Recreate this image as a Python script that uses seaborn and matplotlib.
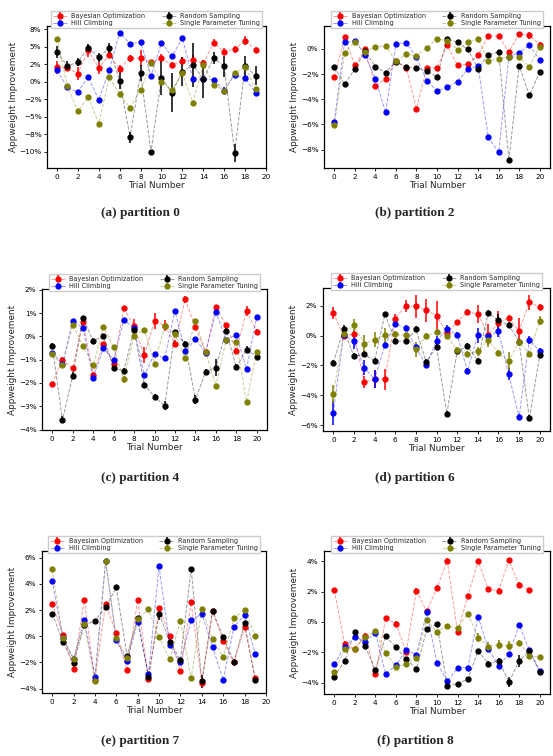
import matplotlib
matplotlib.use("Agg")
import numpy as np
import pandas as pd
import seaborn as sns
import matplotlib.pyplot as plt
from matplotlib.ticker import MultipleLocator, PercentFormatter

# values in percent
methods = ["Bayesian Optimization", "Hill Climbing", "Random Sampling", "Single Parameter Tuning"]
colors = ["red", "blue", "black", "olive"]

# partition 0
p0_bo = [2.1, 2.0, 1.2, 4.5, 2.0, 3.9, 1.9, 3.4, 3.4, 2.8, 3.4, 2.4, 3.0, 3.2, 2.65, 5.6, 4.3, 4.7, 5.9, 4.6]
p0_hc = [1.66, -0.76, -1.47, 0.76, -2.56, 1.66, 7.06, 5.45, 5.73, 0.85, 5.6, 3.65, 6.3, 0.43, 0.43, 0.33, -1.23, 1.04, 0.57, -1.56]
p0_rs = [4.27, 2.27, 2.84, 4.88, 3.5, 4.83, 0.19, -7.9, 1.28, -10.0, 0.62, -1.56, 1.47, 2.42, 0.47, 3.41, 2.27, -10.1, 2.27, 0.9]
p0_spt = [6.1, -0.52, -4.2, -2.13, -5.97, 0.66, -1.7, -3.7, -1.09, 2.65, 0.0, -1.14, 1.23, -2.94, 2.46, -0.38, -1.23, 1.23, 2.18, -1.04]
p0_bo_err = [0.9, 0.4, 0.9, 0.9, 0.8, 0.5, 0.5, 0.5, 1.1, 0.4, 0.6, 0.4, 0.5, 0.6, 0.4, 0.5, 0.5, 0.5, 0.6, 0.4]
p0_hc_err = [0.3, 0.2, 0.2, 0.2, 0.2, 0.3, 0.2, 0.2, 0.2, 0.2, 0.2, 0.2, 0.2, 0.2, 0.2, 0.3, 0.5, 0.4, 0.2, 0.2]
p0_rs_err = [0.8, 0.7, 0.6, 0.6, 0.7, 0.8, 1.2, 0.8, 1.1, 0.2, 2.5, 2.8, 2.1, 3.1, 2.7, 0.9, 1.5, 1.3, 1.5, 1.4]
p0_spt_err = [0.2] * 20

# partition 2
p2_bo = [-2.25, 0.93, -1.3, -0.03, -2.94, -2.38, -0.98, -1.48, -4.74, -1.53, -1.48, 0.29, -1.3, -1.22, -0.48, 1.03, 1.03, -0.24, 1.22, 1.08, 0.34]
p2_hc = [-5.79, 0.53, 0.66, -0.5, -2.38, -5.05, 0.42, 0.5, -0.66, -2.51, -3.33, -3.04, -2.59, -1.61, -1.35, -7.04, -8.23, -0.61, -0.29, 0.32, -0.87]
p2_rs = [-1.43, -2.8, -1.59, -0.16, -1.4, -1.88, -1.0, -1.46, -1.51, -1.75, -2.22, 0.82, 0.53, -0.03, -1.56, -0.45, -0.24, -8.86, -1.32, -3.7, -1.8]
p2_spt = [-6.08, -0.32, 0.58, -0.26, 0.19, 0.24, -0.98, -0.42, -0.53, 0.11, 0.79, 0.66, -0.05, 0.56, 0.77, -0.98, -0.79, -0.61, -0.66, -1.4, 0.19]
p2_bo_err = [0.15] * 19 + [0.3, 0.2]
p2_hc_err = [0.12] * 21
p2_rs_err = [0.12] * 21
p2_spt_err = [0.12] * 21

# partition 4
p4_bo = [-2.04, -1.0, -1.38, 0.6, -1.64, -0.33, -1.2, 1.21, 0.44, -0.81, 0.66, 0.46, -0.31, 1.6, 0.38, -0.67, 1.25, 0.47, -0.61, 1.08, 0.2]
p4_hc = [-0.7, -1.2, 0.66, 0.37, -1.81, -0.51, -1.0, 0.71, 0.34, -1.68, -0.75, -0.94, 1.1, -0.64, -0.11, -0.7, 1.05, -0.14, 0.07, -1.4, 0.83]
p4_rs = [-0.41, -3.59, -1.7, 0.77, -0.19, 0.0, -1.37, -1.48, 0.28, -2.07, -2.6, -2.98, 0.19, -0.33, -2.72, -1.51, -1.34, 0.23, -1.32, -0.57, -0.87]
p4_spt = [-0.78, -1.24, 0.48, -0.4, -1.25, 0.4, -0.48, -1.84, 0.03, 0.28, -1.17, 0.43, 0.11, -0.95, 0.67, -0.68, -2.12, -0.17, -0.24, -2.81, -0.67]
p4_bo_err = [0.1, 0.1, 0.1, 0.1, 0.1, 0.1, 0.1, 0.1, 0.3, 0.35, 0.35, 0.25, 0.15, 0.15, 0.1, 0.1, 0.1, 0.1, 0.1, 0.2, 0.1]
p4_hc_err = [0.08] * 21
p4_rs_err = [0.12, 0.15, 0.15, 0.12, 0.1, 0.1, 0.12, 0.12, 0.1, 0.1, 0.12, 0.2, 0.1, 0.12, 0.2, 0.12, 0.35, 0.12, 0.12, 0.15, 0.1]
p4_spt_err = [0.08, 0.08, 0.08, 0.08, 0.08, 0.08, 0.08, 0.15, 0.08, 0.08, 0.08, 0.08, 0.08, 0.08, 0.08, 0.08, 0.08, 0.08, 0.08, 0.08, 0.08]

# partition 6
p6_bo = [1.55, -0.04, 0.13, -3.12, -2.92, -2.92, 1.15, 2.02, 1.96, 1.69, 1.35, 0.16, 0.9, 1.62, 1.44, 0.07, 0.85, 1.21, 0.31, 2.25, 1.91]
p6_hc = [-5.17, 0.07, -0.38, -2.16, -2.92, -0.65, 0.76, 0.54, -0.79, -1.96, -0.34, 0.43, 0.07, -2.38, 0.04, -0.04, 0.31, -2.6, -5.48, -0.29, -1.03]
p6_rs = [-1.82, 0.43, -1.37, -1.26, -1.69, 1.44, -0.34, -0.38, 0.43, -1.78, -0.76, -5.24, -1.06, -0.7, -1.69, 1.51, 1.03, 0.7, -0.4, -5.55, -1.33]
p6_spt = [-3.89, 0.09, 0.7, -0.54, -0.27, 0.02, 0.09, 0.02, -0.92, -0.04, 0.25, 0.0, -0.99, -1.21, -1.06, -0.29, -1.17, -1.73, -0.43, -1.21, 1.01]
p6_bo_err = [0.4, 0.2, 0.2, 0.4, 0.6, 0.7, 0.3, 0.4, 0.8, 0.8, 1.0, 0.2, 0.15, 0.2, 0.6, 0.7, 0.8, 0.2, 0.9, 0.5, 0.2]
p6_hc_err = [0.8, 0.3, 0.5, 0.5, 0.6, 0.2, 0.2, 0.2, 0.2, 0.2, 0.3, 0.3, 0.2, 0.2, 0.5, 0.2, 0.4, 0.4, 0.2, 0.3, 0.2]
p6_rs_err = [0.2, 0.3, 0.2, 0.2, 0.2, 0.1, 0.2, 0.2, 0.2, 0.2, 0.2, 0.2, 0.2, 0.2, 0.2, 0.2, 0.4, 0.2, 0.2, 0.2, 0.2]
p6_spt_err = [0.6, 0.3, 0.4, 0.6, 0.5, 0.5, 0.2, 0.2, 0.5, 0.2, 0.2, 0.2, 0.2, 0.2, 0.3, 0.5, 0.2, 0.6, 0.2, 0.2, 0.3]

# partition 7
p7_bo = [2.46, 0.13, -2.53, 2.76, -3.32, 2.48, 0.23, -2.58, 2.76, -3.27, 2.18, 0.0, -2.66, 2.58, -3.57, 1.9, -0.33, -2.0, 0.68, -3.22]
p7_hc = [4.23, -0.15, -1.72, 1.27, -3.09, 5.77, -0.3, -1.9, 1.09, -2.91, 5.32, -0.68, -2.0, 1.22, 1.72, -0.81, -3.34, 0.71, 1.62, -1.37]
p7_rs = [1.72, -0.41, -2.05, 0.84, 1.19, 2.2, 3.72, -1.47, 1.37, -3.11, 1.72, -0.41, -1.8, 5.14, -3.44, 1.92, -0.05, -1.95, 0.99, -3.37]
p7_spt = [5.11, -0.1, -1.7, 0.91, -3.39, 5.72, -0.13, -1.65, 1.32, 2.05, -0.08, -1.77, 1.19, -3.22, 2.1, -0.2, -1.62, 1.39, 2.03, 0.03]
p7_bo_err = [0.15] * 20
p7_hc_err = [0.15] * 20
p7_rs_err = [0.15] * 10 + [0.5, 0.15, 0.15, 0.15, 0.5, 0.15, 0.15, 0.15, 0.15, 0.15]
p7_spt_err = [0.15] * 20

# partition 8
p8_bo = [2.11, -1.43, -1.78, -0.9, -3.45, 0.24, -0.11, -1.96, 2.07, 0.7, 2.26, 4.04, -0.66, 1.71, 4.02, 2.15, 2.07, 4.07, 2.46, 2.11]
p8_hc = [-2.79, -1.63, -0.97, -1.32, -0.7, -3.41, -2.86, -1.85, -2.15, 0.64, -2.7, -3.91, -3.03, -3.01, 0.35, -1.78, -2.9, -2.11, -0.2, -1.85, -3.21]
p8_rs = [-3.6, -2.59, -0.68, -1.6, -3.19, -0.92, -1.67, -2.46, -3.08, -0.48, -0.13, -4.2, -4.09, -3.76, -1.91, -2.75, -2.55, -3.96, -2.57, -1.89, -3.3]
p8_spt = [-3.32, -1.8, -1.76, -0.99, -0.62, -2.02, -2.97, -2.77, -2.35, 0.13, -0.66, -0.26, -0.4, 0.55, -1.03, -1.63, -1.49, -1.58, -1.36, -2.22, -2.33]
p8_bo_err = [0.15] * 20
p8_hc_err = [0.12] * 21
p8_rs_err = [0.12] * 15 + [0.2, 0.2, 0.3, 0.4, 0.2, 0.15]
p8_spt_err = [0.12] * 14 + [0.3, 0.3, 0.3, 0.3, 0.15, 0.15, 0.12]

panels = [
    ("(a) partition 0", [p0_bo, p0_hc, p0_rs, p0_spt], [p0_bo_err, p0_hc_err, p0_rs_err, p0_spt_err], (-12.3, 8.0), 2.5, (-0.95, 20.0)),
    ("(b) partition 2", [p2_bo, p2_hc, p2_rs, p2_spt], [p2_bo_err, p2_hc_err, p2_rs_err, p2_spt_err], (-9.47, 1.83), 2, (-1, 21)),
    ("(c) partition 4", [p4_bo, p4_hc, p4_rs, p4_spt], [p4_bo_err, p4_hc_err, p4_rs_err, p4_spt_err], (-4.02, 2.03), 1, (-1, 21)),
    ("(d) partition 6", [p6_bo, p6_hc, p6_rs, p6_spt], [p6_bo_err, p6_hc_err, p6_rs_err, p6_spt_err], (-6.4, 3.2), 2, (-1, 21)),
    ("(e) partition 7", [p7_bo, p7_hc, p7_rs, p7_spt], [p7_bo_err, p7_hc_err, p7_rs_err, p7_spt_err], (-4.33, 6.5), 2, (-0.95, 20.0)),
    ("(f) partition 8", [p8_bo, p8_hc, p8_rs, p8_spt], [p8_bo_err, p8_hc_err, p8_rs_err, p8_spt_err], (-4.75, 4.68), 2, (-1, 21)),
]

sns.set_theme(style="ticks")
plt.rcParams['font.family'] = ['DejaVu Sans']
plt.rcParams['axes.edgecolor'] = 'black'
plt.rcParams['xtick.color'] = 'black'
plt.rcParams['ytick.color'] = 'black'

fig = plt.figure(figsize=(5.53, 7.56), dpi=100)
W, H = 553, 756

# axes boxes in pixels: left, top, right, bottom
boxes = [(47, 26, 266, 168), (324, 26, 550, 168),
         (42, 289, 267, 430), (323, 288, 550, 431),
         (42, 551, 266, 693), (324, 551, 550, 694)]
caption_pos = [(140, 213), (415, 213), (140, 478), (415, 478), (140, 741), (415, 741)]

for i, (title, series, errs, ylim, ystep, xlim) in enumerate(panels):
    l, t, r, b = boxes[i]
    ax = fig.add_axes([l / W, 1 - b / H, (r - l) / W, (b - t) / H])
    for name, col, y, e in zip(methods, colors, series, errs):
        x = np.arange(len(y))
        cont = ax.errorbar(x, y, yerr=e, fmt='o', linestyle='--', color=col,
                           ms=3.5, mfc=col, mec=col, lw=0.7, elinewidth=1.1,
                           capsize=0, label=name)
        rgb = matplotlib.colors.to_rgb(col)
        cont[0].set_color((*rgb, 0.4))
        cont[0].set_markerfacecolor(col)
        cont[0].set_markeredgecolor(col)
    ax.set_xlim(*xlim)
    ax.set_ylim(*ylim)
    ax.set_xticks(range(0, 21, 2))
    ax.yaxis.set_major_locator(MultipleLocator(ystep))
    ax.yaxis.set_major_formatter(PercentFormatter(decimals=0))
    ax.tick_params(labelsize=5.2, length=2.5, width=0.6, pad=1.5)
    for s in ax.spines.values():
        s.set_linewidth(0.9)
    ax.set_xlabel("Trial Number", fontsize=6.4, labelpad=1)
    ax.set_ylabel("Appweight Improvement", fontsize=6.4, labelpad=1)
    ax.legend(loc='lower center', bbox_to_anchor=(0.5, 0.96), ncol=2,
              fontsize=4.7, frameon=True, fancybox=False, borderpad=0.3,
              handlelength=2.2, handletextpad=0.6, columnspacing=2.6,
              labelspacing=0.25, edgecolor='#cccccc', framealpha=1)
    cx, cy = caption_pos[i]
    fig.text(cx / W, 1 - cy / H, title, ha='center', va='center',
             fontsize=9.5, fontweight='bold', family='Liberation Serif')

fig.savefig("out.png", dpi=100)
